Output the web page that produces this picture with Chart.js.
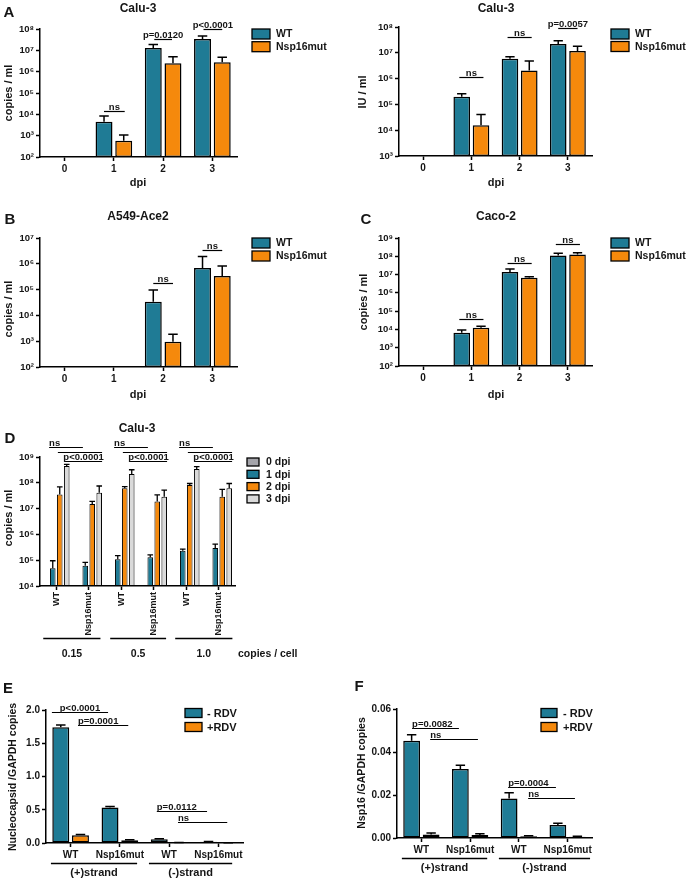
<!DOCTYPE html>
<html>
<head>
<meta charset="utf-8">
<script src="https://cdn.jsdelivr.net/npm/chart.js@4.4.0/dist/chart.umd.min.js"></script>
<style>
  body { margin: 0; background: #fff; }
  #wrap { position: relative; width: 695px; height: 882px; }
  canvas { position: absolute; left: 0; top: 0; }
</style>
</head>
<body>
<div id="wrap">
  <canvas id="chartA1" width="695" height="882"></canvas>
  <canvas id="chartA2" width="695" height="882"></canvas>
  <canvas id="chartB" width="695" height="882"></canvas>
  <canvas id="chartC" width="695" height="882"></canvas>
  <canvas id="chartD" width="695" height="882"></canvas>
  <canvas id="chartE" width="695" height="882"></canvas>
  <canvas id="chartF" width="695" height="882"></canvas>
</div>
<script>
// ---------- data ----------
const dpiLabels = ["0", "1", "2", "3"];

// A, Calu-3 genome copies / ml
const caluCopiesWT = [null, 4500, 1.3e7, 3.4e7];
const caluCopiesWTErr = [null, 8300, 1.9e7, 4.7e7];
const caluCopiesMut = [null, 580, 2.5e6, 2.8e6];
const caluCopiesMutErr = [null, 1070, 5e6, 4.7e6];

// A, Calu-3 IU / ml
const caluIUWT = [null, 2e5, 5.9e6, 2.2e7];
const caluIUWTErr = [null, 2.6e5, 7e6, 2.9e7];
const caluIUMut = [null, 1.55e4, 2.05e6, 1.17e7];
const caluIUMutErr = [null, 4.1e4, 4.8e6, 1.8e7];

// B, A549-Ace2
const a549WT = [null, null, 3.4e4, 6.8e5];
const a549WTErr = [null, null, 9.6e4, 1.9e6];
const a549Mut = [null, null, 960, 3.4e5];
const a549MutErr = [null, null, 1850, 8.2e5];

// C, Caco-2
const cacoWT = [null, 6600, 1.4e7, 1.1e8];
const cacoWTErr = [null, 9300, 2e7, 1.45e8];
const cacoMut = [null, 1.23e4, 6.7e6, 1.25e8];
const cacoMutErr = [null, 1.47e4, 7.6e6, 1.55e8];

// D, Calu-3 by input dose
const moiLabels = ["WT", "Nsp16mut", "WT", "Nsp16mut", "WT", "Nsp16mut"];
const doseLabels = ["0.15", "0.5", "1.0"];
const dDay0 = [null, null, null, null, null, null];
const dDay1 = [4.9e4, 6.1e4, 1.08e5, 1.3e5, 2.3e5, 3e5];
const dDay1Err = [9.5e4, 8.3e4, 1.5e5, 1.6e5, 2.7e5, 4.2e5];
const dDay2 = [3.5e7, 1.5e7, 6.1e7, 1.9e7, 8.2e7, 2.9e7];
const dDay2Err = [7e7, 1.9e7, 7.1e7, 3.4e7, 9.4e7, 5.6e7];
const dDay3 = [4.5e8, 4.1e7, 2.2e8, 2.9e7, 3.4e8, 6.1e7];
const dDay3Err = [5.2e8, 7.5e7, 3.2e8, 5.2e7, 4.2e8, 9.4e7];

// E / F, strand RNA
const strandCats = ["WT", "Nsp16mut", "WT", "Nsp16mut"];
const strandLabels = ["(+)strand", "(-)strand"];
const ncNoRdv = [1.74, 0.535, 0.057, 0.02];
const ncNoRdvErr = [1.775, 0.548, 0.065, 0.024];
const ncRdv = [0.117, 0.042, 0.005, 0.004];
const ncRdvErr = [0.127, 0.05, 0.006, 0.005];
const nspNoRdv = [0.0452, 0.0321, 0.0184, 0.0061];
const nspNoRdvErr = [0.048, 0.0338, 0.021, 0.0069];
const nspRdv = [0.0016, 0.0014, 0.0008, 0.0006];
const nspRdvErr = [0.0023, 0.002, 0.0011, 0.0008];

// tick values
const ticksA1 = [1e2, 1e3, 1e4, 1e5, 1e6, 1e7, 1e8];
const ticksA2 = [1e3, 1e4, 1e5, 1e6, 1e7, 1e8];
const ticksB = [1e2, 1e3, 1e4, 1e5, 1e6, 1e7];
const ticksC = [1e2, 1e3, 1e4, 1e5, 1e6, 1e7, 1e8, 1e9];
const ticksD = [1e4, 1e5, 1e6, 1e7, 1e8, 1e9];

// significance bars (x in category units, y in data units)
const sigA1 = [
  { x1: 0.8, x2: 1.22, y: 1.5e4, text: "ns" },
  { x1: 1.82, x2: 2.18, y: 3.4e7, text: "p=0.0120" },
  { x1: 2.82, x2: 3.2, y: 1e8, text: "p<0.0001" },
];
const sigA2 = [
  { x1: 0.75, x2: 1.25, y: 1.15e6, text: "ns" },
  { x1: 1.75, x2: 2.25, y: 4e7, text: "ns" },
  { x1: 2.8, x2: 3.2, y: 9e7, text: "p=0.0057" },
];
const sigB = [
  { x1: 1.8, x2: 2.2, y: 1.8e5, text: "ns" },
  { x1: 2.8, x2: 3.2, y: 3.4e6, text: "ns" },
];
const sigC = [
  { x1: 0.75, x2: 1.25, y: 3.7e4, text: "ns" },
  { x1: 1.75, x2: 2.25, y: 4.3e7, text: "ns" },
  { x1: 2.75, x2: 3.25, y: 4.7e8, text: "ns" },
];
const sigD = [
  { x1: -0.22, x2: 0.82, y: 2.4e9, text: "ns", align: "start" },
  { x1: 0.05, x2: 1.41, y: 1.56e9 },
  { x1: 0.27, x2: 1.41, y: 7e8, text: "p<0.0001" },
  { x1: 1.78, x2: 2.82, y: 2.4e9, text: "ns", align: "start" },
  { x1: 2.05, x2: 3.41, y: 1.56e9 },
  { x1: 2.27, x2: 3.41, y: 7e8, text: "p<0.0001" },
  { x1: 3.78, x2: 4.82, y: 2.4e9, text: "ns", align: "start" },
  { x1: 4.05, x2: 5.41, y: 1.56e9 },
  { x1: 4.27, x2: 5.41, y: 7e8, text: "p<0.0001" },
];
const sigE = [
  { x1: -0.38, x2: 0.76, y: 1.965, text: "p<0.0001" },
  { x1: 0.15, x2: 1.17, y: 1.774, text: "p=0.0001", align: "start" },
  { x1: 1.75, x2: 2.77, y: 0.482, text: "p=0.0112", align: "start" },
  { x1: 2.18, x2: 3.18, y: 0.317, text: "ns", align: "start" },
];
const sigF = [
  { x1: -0.19, x2: 0.77, y: 0.0511, text: "p=0.0082", align: "start" },
  { x1: 0.18, x2: 1.16, y: 0.046, text: "ns", align: "start" },
  { x1: 1.78, x2: 2.76, y: 0.0238, text: "p=0.0004", align: "start" },
  { x1: 2.19, x2: 3.15, y: 0.0187, text: "ns", align: "start" },
];

// ---------- look ----------
const W = 695, H = 882;
const TEAL = "#1f7b95", ORANGE = "#f5890c", GREY = "#a4a4aa", LIGHT = "#dadada";
const FONT = '"Liberation Sans", Arial, sans-serif';
const INK = "#151515";
const SUP = ["⁰", "¹", "²", "³", "⁴", "⁵", "⁶", "⁷", "⁸", "⁹"];

Chart.defaults.font.family = FONT;
Chart.defaults.font.weight = "bold";
Chart.defaults.color = INK;

function pow10(v) {
  const e = Math.round(Math.log10(v));
  return "10" + String(e).split("").map((d) => SUP[+d]).join("");
}

// upward error bars with a cap
const errorBars = {
  id: "errorBars",
  afterDatasetsDraw(chart, args, o) {
    const ctx = chart.ctx;
    const y = chart.scales.y;
    ctx.save();
    ctx.strokeStyle = "#000";
    ctx.lineWidth = o.width || 1.5;
    chart.data.datasets.forEach((ds, i) => {
      if (!ds.errTop) return;
      chart.getDatasetMeta(i).data.forEach((bar, j) => {
        const e = ds.errTop[j];
        if (e == null || ds.data[j] == null) return;
        const top = y.getPixelForValue(e);
        const cap = bar.width * (o.cap || 0.28);
        ctx.beginPath();
        ctx.moveTo(bar.x, bar.y);
        ctx.lineTo(bar.x, top);
        ctx.moveTo(bar.x - cap, top);
        ctx.lineTo(bar.x + cap, top);
        ctx.stroke();
      });
    });
    ctx.restore();
  },
};

// panel letters, titles, legends, significance bars, group lines
const decor = {
  id: "decor",
  afterDraw(chart, args, o) {
    const ctx = chart.ctx;
    const x = chart.scales.x, y = chart.scales.y;
    ctx.save();
    ctx.fillStyle = INK;
    ctx.strokeStyle = "#000";

    (o.texts || []).forEach((t) => {
      ctx.save();
      ctx.font = "bold " + (t.size || 11) + "px " + FONT;
      ctx.translate(t.x, t.y);
      if (t.rot) ctx.rotate((t.rot * Math.PI) / 180);
      ctx.textAlign = t.align || "center";
      ctx.textBaseline = "middle";
      ctx.fillText(t.text, 0, 0);
      ctx.restore();
    });

    ctx.lineWidth = 1.2;
    (o.sig || []).forEach((s) => {
      const x1 = x.getPixelForValue(s.x1);
      const x2 = x.getPixelForValue(s.x2);
      const yy = Math.round(y.getPixelForValue(s.y)) + 0.5;
      ctx.beginPath();
      ctx.moveTo(x1, yy);
      ctx.lineTo(x2, yy);
      ctx.stroke();
      if (s.text) {
        ctx.font = "bold " + (o.sigSize || 9.5) + "px " + FONT;
        ctx.textBaseline = "alphabetic";
        let tx = (x1 + x2) / 2;
        ctx.textAlign = "center";
        if (s.align === "start") { tx = x1; ctx.textAlign = "left"; }
        ctx.fillText(s.text, tx, yy - 1.5);
      }
    });

    if (o.legend) {
      const L = o.legend;
      ctx.font = "bold " + L.size + "px " + FONT;
      ctx.textAlign = "left";
      ctx.textBaseline = "middle";
      chart.data.datasets.forEach((ds, i) => {
        const cy = L.y + i * L.dy;
        ctx.fillStyle = ds.backgroundColor;
        ctx.fillRect(L.x, cy - L.bh / 2, L.bw, L.bh);
        ctx.lineWidth = 1.3;
        ctx.strokeRect(L.x, cy - L.bh / 2, L.bw, L.bh);
        ctx.fillStyle = INK;
        ctx.fillText(ds.label, L.x + L.bw + L.gap, cy + 0.5);
      });
    }

    if (o.groups) {
      const G = o.groups;
      const b = chart.chartArea.bottom;
      ctx.lineWidth = 1.3;
      ctx.font = "bold " + G.size + "px " + FONT;
      ctx.textAlign = "center";
      ctx.textBaseline = "middle";
      G.items.forEach((g) => {
        const x1 = x.getPixelForValue(g.from);
        const x2 = x.getPixelForValue(g.to);
        ctx.beginPath();
        ctx.moveTo(x1, b + G.lineOff + 0.5);
        ctx.lineTo(x2, b + G.lineOff + 0.5);
        ctx.stroke();
        ctx.fillText(g.text, (x1 + x2) / 2, b + G.textOff);
      });
    }
    ctx.restore();
  },
};

function barDataset(label, data, err, color, extra) {
  return Object.assign({
    label: label,
    data: data,
    errTop: err,
    backgroundColor: color,
    borderColor: "#000",
    borderWidth: 1.5,
    borderSkipped: false,
    categoryPercentage: 0.8,
    barPercentage: 0.86,
  }, extra || {});
}

function makeChart(id, o) {
  const yW = 36, xH = o.xH || 30;
  const axisLine = { color: "#000", width: 1.5 };
  const tickGrid = { drawOnChartArea: false, drawTicks: true, tickLength: 4, tickColor: "#000", tickWidth: 1.5, offset: false };
  const yScale = Object.assign({
    border: axisLine,
    grid: tickGrid,
    afterFit: (s) => { s.width = yW; },
  }, o.y);
  return new Chart(document.getElementById(id), {
    type: "bar",
    data: { labels: o.labels, datasets: o.datasets },
    options: {
      responsive: false,
      animation: false,
      devicePixelRatio: 1,
      layout: {
        padding: { left: o.area.l - yW, top: o.area.t, right: W - o.area.r, bottom: H - o.area.b - xH },
      },
      plugins: {
        legend: { display: false },
        tooltip: { enabled: false },
        errorBars: o.err || {},
        decor: o.decor,
      },
      scales: {
        x: {
          border: axisLine,
          grid: tickGrid,
          ticks: Object.assign({ font: { size: 10 }, padding: 2, autoSkip: false, maxRotation: 0 }, o.xTicks || {}),
          afterFit: (s) => { s.height = xH; },
        },
        y: yScale,
      },
    },
    plugins: [errorBars, decor],
  });
}

function logAxis(min, max, tickList) {
  return {
    type: "logarithmic",
    min: min,
    max: max,
    afterBuildTicks: (s) => { s.ticks = tickList.map((v) => ({ value: v })); },
    ticks: { callback: (v) => pow10(v), font: { size: 9.5 }, padding: 2 },
  };
}

const legend2 = { bw: 18, bh: 10, size: 10.5, gap: 6 };

// ---------- A (left) ----------
makeChart("chartA1", {
  area: { l: 40, r: 237, t: 29, b: 157 },
  labels: dpiLabels,
  datasets: [
    barDataset("WT", caluCopiesWT, caluCopiesWTErr, TEAL),
    barDataset("Nsp16mut", caluCopiesMut, caluCopiesMutErr, ORANGE),
  ],
  y: logAxis(1e2, 1e8, ticksA1),
  decor: {
    texts: [
      { text: "A", x: 9, y: 13, size: 15 },
      { text: "Calu-3", x: 138, y: 9, size: 12 },
      { text: "copies / ml", x: 9, y: 93, size: 11, rot: -90 },
      { text: "dpi", x: 138, y: 183, size: 11 },
    ],
    sig: sigA1,
    legend: Object.assign({ x: 252, y: 34, dy: 12.7 }, legend2),
  },
});

// ---------- A (right) ----------
makeChart("chartA2", {
  area: { l: 399, r: 592, t: 27, b: 156 },
  labels: dpiLabels,
  datasets: [
    barDataset("WT", caluIUWT, caluIUWTErr, TEAL),
    barDataset("Nsp16mut", caluIUMut, caluIUMutErr, ORANGE),
  ],
  y: logAxis(1e3, 1e8, ticksA2),
  decor: {
    texts: [
      { text: "Calu-3", x: 496, y: 9, size: 12 },
      { text: "IU / ml", x: 363, y: 92, size: 11, rot: -90 },
      { text: "dpi", x: 496, y: 183, size: 11 },
    ],
    sig: sigA2,
    legend: Object.assign({ x: 611, y: 34, dy: 12.5 }, legend2),
  },
});

// ---------- B ----------
makeChart("chartB", {
  area: { l: 40, r: 237, t: 238, b: 367 },
  labels: dpiLabels,
  datasets: [
    barDataset("WT", a549WT, a549WTErr, TEAL),
    barDataset("Nsp16mut", a549Mut, a549MutErr, ORANGE),
  ],
  y: logAxis(1e2, 1e7, ticksB),
  decor: {
    texts: [
      { text: "B", x: 10, y: 220, size: 15 },
      { text: "A549-Ace2", x: 138, y: 217, size: 12 },
      { text: "copies / ml", x: 9, y: 309, size: 11, rot: -90 },
      { text: "dpi", x: 138, y: 395, size: 11 },
    ],
    sig: sigB,
    legend: Object.assign({ x: 252, y: 243, dy: 13 }, legend2),
  },
});

// ---------- C ----------
makeChart("chartC", {
  area: { l: 399, r: 592, t: 238, b: 366 },
  labels: dpiLabels,
  datasets: [
    barDataset("WT", cacoWT, cacoWTErr, TEAL),
    barDataset("Nsp16mut", cacoMut, cacoMutErr, ORANGE),
  ],
  y: logAxis(1e2, 1e9, ticksC),
  decor: {
    texts: [
      { text: "C", x: 366, y: 220, size: 15 },
      { text: "Caco-2", x: 496, y: 217, size: 12 },
      { text: "copies / ml", x: 364, y: 302, size: 11, rot: -90 },
      { text: "dpi", x: 496, y: 395, size: 11 },
    ],
    sig: sigC,
    legend: Object.assign({ x: 611, y: 243, dy: 13 }, legend2),
  },
});

// ---------- D ----------
const dBar = { borderWidth: 1, categoryPercentage: 0.86, barPercentage: 0.8 };
makeChart("chartD", {
  area: { l: 40, r: 235, t: 457, b: 586 },
  xH: 62,
  labels: moiLabels,
  datasets: [
    barDataset("0 dpi", dDay0, null, GREY, dBar),
    barDataset("1 dpi", dDay1, dDay1Err, TEAL, dBar),
    barDataset("2 dpi", dDay2, dDay2Err, ORANGE, dBar),
    barDataset("3 dpi", dDay3, dDay3Err, LIGHT, dBar),
  ],
  xTicks: { minRotation: 90, maxRotation: 90, font: { size: 9 } },
  y: logAxis(1e4, 1e9, ticksD),
  err: { width: 1.3, cap: 0.5 },
  decor: {
    texts: [
      { text: "D", x: 10, y: 439, size: 15 },
      { text: "Calu-3", x: 137, y: 429, size: 12 },
      { text: "copies / ml", x: 9, y: 518, size: 11, rot: -90 },
      { text: "copies / cell", x: 238, y: 654, size: 10.5, align: "left" },
    ],
    sig: sigD,
    legend: { x: 247, y: 462, dy: 12.3, bw: 12, bh: 8, size: 10.5, gap: 7 },
    groups: {
      size: 10.5, lineOff: 52, textOff: 68,
      items: [
        { text: doseLabels[0], from: -0.4, to: 1.36 },
        { text: doseLabels[1], from: 1.66, to: 3.38 },
        { text: doseLabels[2], from: 3.66, to: 5.42 },
      ],
    },
  },
});

// ---------- E ----------
makeChart("chartE", {
  area: { l: 46, r: 243, t: 710, b: 843 },
  labels: strandCats,
  datasets: [
    barDataset("- RDV", ncNoRdv, ncNoRdvErr, TEAL),
    barDataset("+RDV", ncRdv, ncRdvErr, ORANGE),
  ],
  y: {
    min: 0, max: 2,
    ticks: { stepSize: 0.5, callback: (v) => v.toFixed(1), font: { size: 10 }, padding: 2 },
  },
  decor: {
    texts: [
      { text: "E", x: 8, y: 689, size: 15 },
      { text: "Nucleocapsid /GAPDH copies", x: 13, y: 777, size: 10.5, rot: -90 },
    ],
    sig: sigE,
    legend: { x: 185, y: 713, dy: 14, bw: 17, bh: 9, size: 11, gap: 5 },
    groups: {
      size: 11, lineOff: 20, textOff: 30,
      items: [
        { text: strandLabels[0], from: -0.4, to: 1.35 },
        { text: strandLabels[1], from: 1.59, to: 3.28 },
      ],
    },
  },
});

// ---------- F ----------
makeChart("chartF", {
  area: { l: 397, r: 592, t: 709, b: 838 },
  labels: strandCats,
  datasets: [
    barDataset("- RDV", nspNoRdv, nspNoRdvErr, TEAL),
    barDataset("+RDV", nspRdv, nspRdvErr, ORANGE),
  ],
  y: {
    min: 0, max: 0.06,
    ticks: { stepSize: 0.02, callback: (v) => v.toFixed(2), font: { size: 10 }, padding: 2 },
  },
  decor: {
    texts: [
      { text: "F", x: 359, y: 687, size: 15 },
      { text: "Nsp16 /GAPDH copies", x: 362, y: 773, size: 10.5, rot: -90 },
    ],
    sig: sigF,
    legend: { x: 541, y: 713, dy: 14, bw: 16, bh: 9, size: 11, gap: 6 },
    groups: {
      size: 11, lineOff: 20, textOff: 30,
      items: [
        { text: strandLabels[0], from: -0.4, to: 1.35 },
        { text: strandLabels[1], from: 1.59, to: 3.46 },
      ],
    },
  },
});
</script>
</body>
</html>
